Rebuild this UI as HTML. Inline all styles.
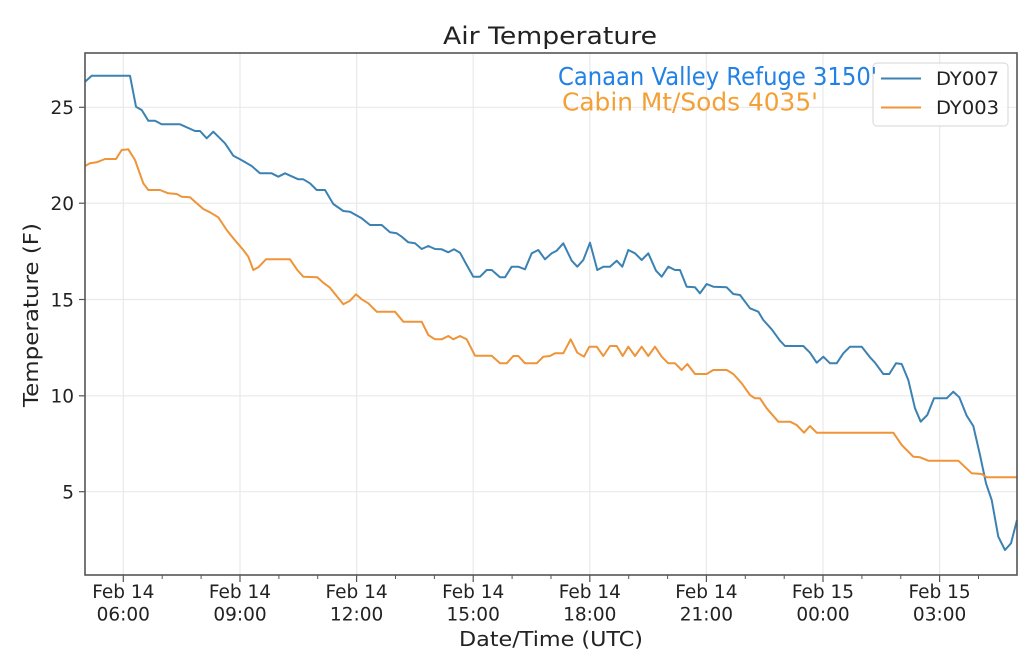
<!DOCTYPE html>
<html><head><meta charset="utf-8"><style>
html,body{margin:0;padding:0;background:#fff;}
svg{display:block;}
text{font-family:"DejaVu Sans","Liberation Sans",sans-serif;fill:#222;}
</style></head><body>
<svg width="1024" height="666" viewBox="0 0 1024 666" xmlns="http://www.w3.org/2000/svg">
<rect width="1024" height="666" fill="#fff"/>
<!-- grid -->
<g stroke="#e9e9e9" stroke-width="1.2">
<line x1="85" y1="107.3" x2="1017" y2="107.3"/>
<line x1="85" y1="203.2" x2="1017" y2="203.2"/>
<line x1="85" y1="299.5" x2="1017" y2="299.5"/>
<line x1="85" y1="395.8" x2="1017" y2="395.8"/>
<line x1="85" y1="491.7" x2="1017" y2="491.7"/>
<line x1="123.3" y1="53" x2="123.3" y2="575"/>
<line x1="240" y1="53" x2="240" y2="575"/>
<line x1="356.6" y1="53" x2="356.6" y2="575"/>
<line x1="473.2" y1="53" x2="473.2" y2="575"/>
<line x1="589.8" y1="53" x2="589.8" y2="575"/>
<line x1="706.4" y1="53" x2="706.4" y2="575"/>
<line x1="823" y1="53" x2="823" y2="575"/>
<line x1="939.6" y1="53" x2="939.6" y2="575"/>
</g>
<!-- series -->
<polyline fill="none" stroke="#3b82b3" stroke-width="2" stroke-linejoin="round" points="85,81.7 91.7,75.7 130,75.7 136,106.7 141.7,110 148.3,120.7 155,120.7 161.7,124.3 180,124.3 195,131 200,131 206.7,138.3 213.3,131.7 225,143.3 233.3,155.7 240,159.3 251.7,166 260,173.3 271.7,173.3 278.3,176.7 285,173.3 298.3,179.3 303.3,179.3 310,183.3 316.7,190 325,190 333.3,204 343.3,211 350,211.7 361.7,218.3 370,225 381.7,225 390,232.3 396.7,233.3 401.7,236.7 408.3,242.3 415,243.3 421.7,249 428.3,246 435,249 441.7,249.3 448.3,252.3 454,249.3 460,252.7 466.7,265 473.3,276.7 480,276.7 486.7,270 491.7,270 500,277.3 505,277.3 511.7,266.7 518.3,266.7 525,269.3 531.7,253.3 538.3,250 545,259.3 551.7,253.3 556.7,250.7 563.3,243.3 571.7,260.7 577.3,266.7 583.3,260 590,242.7 597.3,270 603.3,266.7 610,266.7 616.7,260.7 622.3,266.7 628.3,250 635,253.3 641.7,260 648.3,253.3 656,270.7 661.7,276.7 668.3,266.7 675,270 680,270 686.7,286.7 695,287.3 700,293.3 706.7,284 713.3,286.7 726.7,287.3 733.3,294 740,295 750,308.3 758.3,311.7 763.3,320 771.7,329.3 780,340.7 785,346 803.3,346 810,352.7 816.7,362.7 823.3,356.7 830,363.3 836.7,363.3 843.3,353.3 850,346.7 861.7,346.7 870,357.3 875,362.7 883.3,374 889.3,374 896,363.3 901.7,364 908.3,380 915,408.3 920.7,421.7 927.3,415 934,398.3 946.7,398.3 953.3,391.7 959.3,397.3 966.7,415.7 973.3,426 980,455 986,483.3 991.7,500 998.3,536.7 1005,550 1011,543.3 1017,520"/>
<polyline fill="none" stroke="#ee9439" stroke-width="2" stroke-linejoin="round" points="85,166 90,163.3 96.7,162.3 105,159 116,159 121.7,150 128.3,149.3 135,160 143.3,183.3 148.3,190 160,190 168.3,193.3 176.7,194 181.7,196.7 190,197.3 195,201.7 203.3,209 210,212.3 218.3,217.3 226.7,230 233.3,238.3 243.3,250 248.3,256.7 253.3,270 258.3,267.3 266,259.3 290,259.3 297.3,270 303.3,276.7 317.3,277.3 323.3,282.7 330,287.7 343.3,304.3 350,300.7 356,294.3 361.7,299.3 368.3,303.3 376.7,311.7 395,311.7 403.3,321.7 421.7,321.7 428.3,335 435,339.3 441.7,339.3 448.3,336 453.3,339.3 460,336 466.7,339.3 475,355.7 491.7,355.7 500,363.3 506.7,363.3 513.3,356 518.3,356 525,363.3 536.7,363.3 543.3,356.7 550,356 555,353.3 563.3,353.3 570.7,339.3 577.3,352.7 584,356.7 589.3,346.7 596.7,346.7 603.3,356 610,346 616.7,346 622.7,356 628.3,346.7 635,356 641.7,346.7 648.3,356 655,346.7 661.7,356.7 668.3,363.3 675,363.3 681.7,370 687.3,364 695,374 706.7,374 713.3,370 726.7,370 733.3,374 741.7,383.3 750,395 755,398.3 760,398.3 766.7,408.3 778.3,421.7 790,421.7 796.7,425 804,432.7 810,426 816.7,432.7 893.3,432.7 901.7,445 913.3,456.7 920,457.3 928.3,460.7 958.3,460.7 971.7,473.3 981.7,474 986.7,477.3 1017,477.3"/>
<!-- spines -->
<rect x="85" y="53" width="932" height="522" fill="none" stroke="#555" stroke-width="1.6"/>
<!-- y ticks -->
<g stroke="#555" stroke-width="1.2">
<line x1="79" y1="107.3" x2="85" y2="107.3"/>
<line x1="79" y1="203.2" x2="85" y2="203.2"/>
<line x1="79" y1="299.5" x2="85" y2="299.5"/>
<line x1="79" y1="395.8" x2="85" y2="395.8"/>
<line x1="79" y1="491.7" x2="85" y2="491.7"/>
<!-- x major -->
<line x1="123.3" y1="575" x2="123.3" y2="582"/>
<line x1="240" y1="575" x2="240" y2="582"/>
<line x1="356.6" y1="575" x2="356.6" y2="582"/>
<line x1="473.2" y1="575" x2="473.2" y2="582"/>
<line x1="589.8" y1="575" x2="589.8" y2="582"/>
<line x1="706.4" y1="575" x2="706.4" y2="582"/>
<line x1="823" y1="575" x2="823" y2="582"/>
<line x1="939.6" y1="575" x2="939.6" y2="582"/>
</g>
<g stroke="#555" stroke-width="1">
<line x1="162.2" y1="575" x2="162.2" y2="579"/><line x1="201.1" y1="575" x2="201.1" y2="579"/>
<line x1="278.9" y1="575" x2="278.9" y2="579"/><line x1="317.7" y1="575" x2="317.7" y2="579"/>
<line x1="395.5" y1="575" x2="395.5" y2="579"/><line x1="434.4" y1="575" x2="434.4" y2="579"/>
<line x1="512.1" y1="575" x2="512.1" y2="579"/><line x1="551" y1="575" x2="551" y2="579"/>
<line x1="628.7" y1="575" x2="628.7" y2="579"/><line x1="667.6" y1="575" x2="667.6" y2="579"/>
<line x1="745.3" y1="575" x2="745.3" y2="579"/><line x1="784.2" y1="575" x2="784.2" y2="579"/>
<line x1="861.9" y1="575" x2="861.9" y2="579"/><line x1="900.8" y1="575" x2="900.8" y2="579"/>
<line x1="978.5" y1="575" x2="978.5" y2="579"/>
</g>
<!-- y tick labels -->
<g font-size="18.5" text-anchor="end">
<text x="74" y="114">25</text>
<text x="74" y="210">20</text>
<text x="74" y="306.3">15</text>
<text x="74" y="402.6">10</text>
<text x="74" y="498.5">5</text>
</g>
<!-- x tick labels -->
<g font-size="18.5" text-anchor="middle">
<text x="123.3" y="598">Feb 14</text><text x="123.3" y="620.5">06:00</text>
<text x="240" y="598">Feb 14</text><text x="240" y="620.5">09:00</text>
<text x="356.6" y="598">Feb 14</text><text x="356.6" y="620.5">12:00</text>
<text x="473.2" y="598">Feb 14</text><text x="473.2" y="620.5">15:00</text>
<text x="589.8" y="598">Feb 14</text><text x="589.8" y="620.5">18:00</text>
<text x="706.4" y="598">Feb 14</text><text x="706.4" y="620.5">21:00</text>
<text x="823" y="598">Feb 15</text><text x="823" y="620.5">00:00</text>
<text x="939.6" y="598">Feb 15</text><text x="939.6" y="620.5">03:00</text>
</g>
<!-- axis labels -->
<text x="551" y="646" font-size="20.5" text-anchor="middle" textLength="184" lengthAdjust="spacingAndGlyphs">Date/Time (UTC)</text>
<text transform="translate(38,315) rotate(-90)" font-size="20.5" text-anchor="middle" textLength="184" lengthAdjust="spacingAndGlyphs">Temperature (F)</text>
<text x="550" y="44" font-size="24" text-anchor="middle" textLength="214" lengthAdjust="spacingAndGlyphs">Air Temperature</text>
<!-- legend -->
<rect x="873" y="63" width="135" height="63" rx="4" ry="4" fill="#fff" fill-opacity="0.85" stroke="#d6d6d6" stroke-width="1"/>
<line x1="881" y1="78.5" x2="921" y2="78.5" stroke="#3b82b3" stroke-width="2"/>
<line x1="881" y1="107.5" x2="921" y2="107.5" stroke="#ee9439" stroke-width="2"/>
<text x="936" y="85" font-size="18.5" textLength="63" lengthAdjust="spacingAndGlyphs">DY007</text>
<text x="936" y="114" font-size="18.5" textLength="63" lengthAdjust="spacingAndGlyphs">DY003</text>
<!-- annotations -->
<text x="558" y="85" font-family="Liberation Sans, sans-serif" font-size="25" style="fill:#2181e4" textLength="319" lengthAdjust="spacingAndGlyphs">Canaan Valley Refuge 3150'</text>
<text x="562" y="110.5" font-family="Liberation Sans, sans-serif" font-size="25" style="fill:#f3a136" textLength="256" lengthAdjust="spacingAndGlyphs">Cabin Mt/Sods 4035'</text>
</svg>
</body></html>
